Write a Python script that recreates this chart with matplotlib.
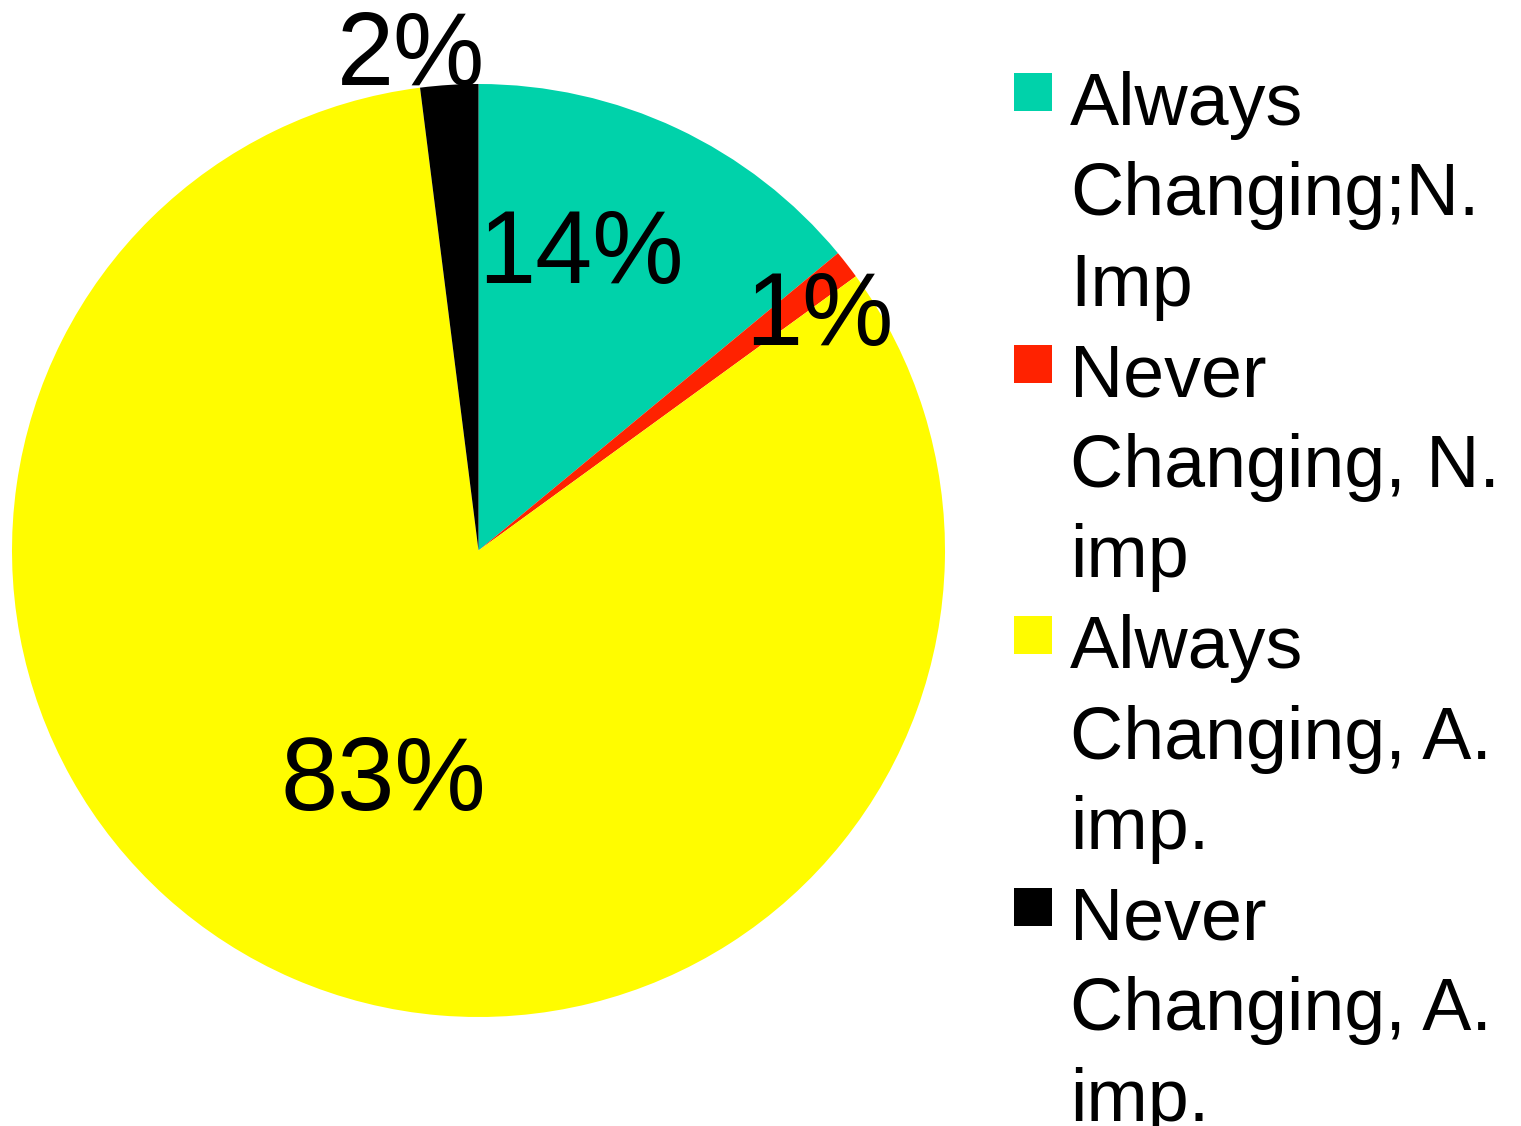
import matplotlib
matplotlib.use("Agg")
from matplotlib import pyplot as plt
from matplotlib.patches import Rectangle

plt.rcParams['font.family'] = ['Liberation Sans', 'DejaVu Sans']

# slice data, clockwise from 12 o'clock
categories = ["Always Changing;N. Imp", "Never Changing, N. imp",
              "Always Changing, A. imp.", "Never Changing, A. imp."]
legend_lines = [["Always", "Changing;N.", "Imp"],
                ["Never", "Changing, N.", "imp"],
                ["Always", "Changing, A.", "imp."],
                ["Never", "Changing, A.", "imp."]]
values = [14, 1, 83, 2]
colors = ["#00D2AA", "#FF2200", "#FFFC00", "#000000"]

# where each percentage sits (data coords, text baseline)
label_pos = [(0.220, 0.573), (0.730, 0.440), (-0.205, -0.556), (-0.145, 0.998)]

W, H = 1521, 1126
fig = plt.figure(figsize=(W / 100, H / 100), dpi=100)

# pie circle: center (478.5, 550.5) px, radius 466.5 px
cx, cy, r = 478.5, 550.5, 466.5
ax = fig.add_axes([(cx - r) / W, (H - cy - r) / H, 2 * r / W, 2 * r / H])
ax.pie(values, colors=colors, startangle=90, counterclock=False, radius=1,
       wedgeprops=dict(linewidth=0))
ax.set_xlim(-1, 1)
ax.set_ylim(-1, 1)
ax.set_aspect('equal')
ax.axis('off')

total = sum(values)
for v, (x, y) in zip(values, label_pos):
    ax.text(x, y, "%d%%" % round(100 * v / total), ha='center', va='baseline',
            fontsize=74, color='black', clip_on=False)

# legend: square + three lines per entry
line_step = 90.5
first_base = 125
for i, (lines, c) in enumerate(zip(legend_lines, colors)):
    base = first_base + 3 * i * line_step
    sq_top = base - 52
    fig.patches.append(Rectangle((1014 / W, (H - sq_top - 38) / H), 38 / W, 38 / H,
                                 transform=fig.transFigure, facecolor=c,
                                 edgecolor='none'))
    for j, txt in enumerate(lines):
        fig.text(1070 / W, (H - (base + j * line_step)) / H, txt,
                 ha='left', va='baseline', fontsize=53, color='black')

fig.savefig("out.png", dpi=100, facecolor='white')
